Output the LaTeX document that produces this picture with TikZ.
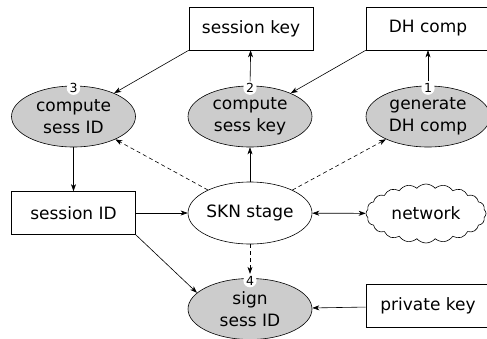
\documentclass[tikz,border=0pt]{standalone}
\usepackage{fontspec}
\setmainfont{DejaVu Sans}
\usetikzlibrary{shapes.geometric,shapes.symbols,arrows.meta}
\begin{document}
\begin{tikzpicture}[x=1pt,y=-1pt,
  every node/.style={font=\fontsize{17}{22.5}\selectfont},
  boxnode/.style={draw,rectangle,minimum width=124pt,minimum height=43pt,inner sep=0pt,line width=0.6pt},
  procnode/.style={draw,ellipse,fill=black!20,minimum width=124pt,minimum height=61pt,inner sep=0pt,align=center,line width=0.6pt},
  stagenode/.style={draw,ellipse,fill=white,minimum width=124pt,minimum height=62pt,inner sep=0pt,line width=0.6pt},
  cloudnode/.style={draw,cloud,cloud puffs=20,cloud puff arc=100,aspect=2,minimum width=120pt,minimum height=59pt,inner sep=0pt,line width=0.6pt},
  numnode/.style={circle,fill=white,inner sep=0.4pt,font=\fontsize{12.5}{13}\selectfont},
  tip/.tip={Stealth[length=7pt,width=5pt,inset=2pt]},
  conn/.style={-tip,line width=0.6pt},
  bconn/.style={tip-tip,line width=0.6pt},
  dconn/.style={conn,dash pattern=on 4pt off 3pt}
]
\useasboundingbox (0,0) rectangle (487,338);
\clip (0,0) rectangle (487,338);
\node[boxnode] (skey) at (251,28.5) {session key};
\node[boxnode] (dhc) at (428,28.5) {DH comp};
\node[procnode] (csid) at (73.5,116.5) {compute\\sess ID};
\node[procnode] (cskey) at (250,116.5) {compute\\sess key};
\node[procnode] (gdh) at (428,116.5) {generate\\DH comp};
\node[boxnode] (sid) at (73.5,213) {session ID};
\node[stagenode] (skn) at (250,213) {SKN stage};
\node[cloudnode] (net) at (426,213.5) {network};
\node[procnode] (sign) at (250,309) {sign\\sess ID};
\node[boxnode] (pkey) at (428,306) {private key};
% step numbers
\node[numnode] (n1) at ([yshift=-2.5pt]gdh.north) {1};
\node[numnode] (n2) at ([yshift=-2.5pt]cskey.north) {2};
\node[numnode] (n3) at ([yshift=-2.5pt]csid.north) {3};
\node[numnode] (n4) at ([yshift=-2.5pt]sign.north) {4};
% connectors
\draw[conn] (skey.south west) -- (csid);
\draw[conn] (n2) -- (skey);
\draw[conn] (dhc.south west) -- (cskey);
\draw[conn] (n1) -- (dhc);
\draw[dconn] (skn) -- (csid);
\draw[conn] (skn) -- (cskey);
\draw[dconn] (skn) -- (gdh);
\draw[conn] (csid) -- (sid);
\draw[conn] (sid) -- (skn);
\draw[bconn] (skn) -- (net);
\draw[dconn] (skn) -- (n4);
\draw[conn] (sid.south east) -- (sign.163);
\draw[conn] (pkey) -- (sign);
\end{tikzpicture}
\end{document}
